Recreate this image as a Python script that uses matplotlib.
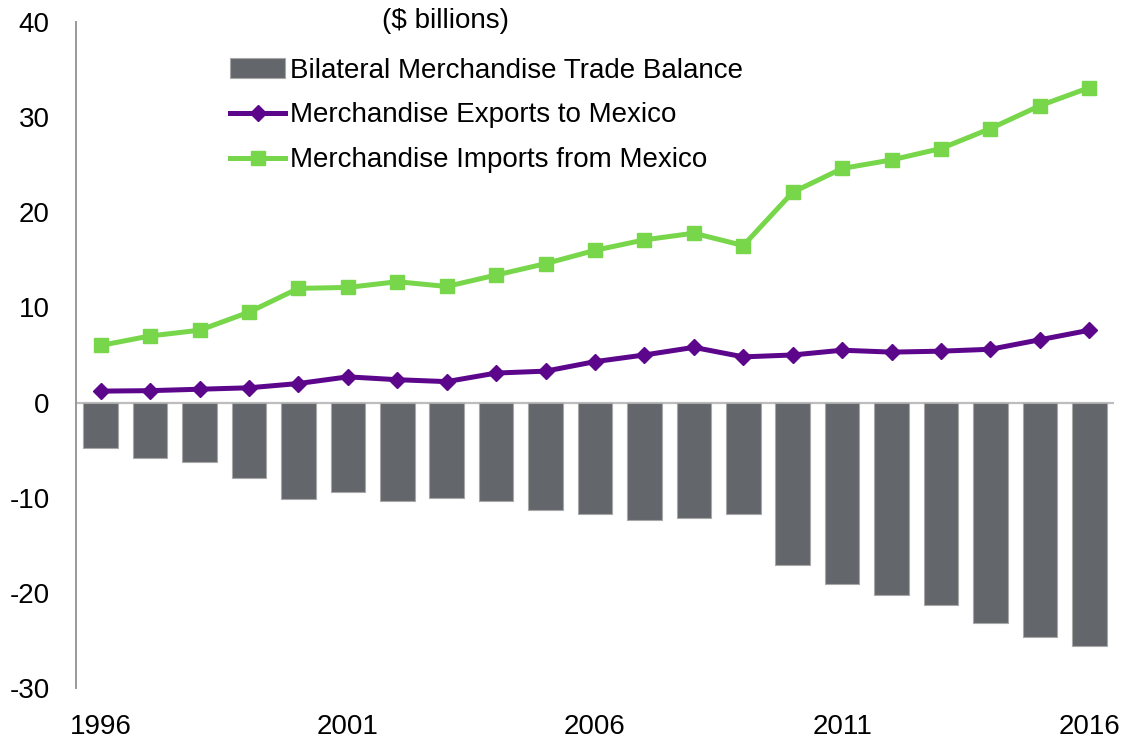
import numpy as np
import matplotlib
matplotlib.use('Agg')
import matplotlib.pyplot as plt


years = list(range(1996, 2017))
balance = [-4.8, -5.8, -6.3, -7.9, -10.1, -9.4, -10.4, -10.0, -10.4, -11.3, -11.7,
           -12.3, -12.1, -11.7, -17.1, -19.1, -20.2, -21.3, -23.2, -24.6, -25.6]
exports = [1.2, 1.25, 1.4, 1.55, 2.0, 2.7, 2.4, 2.2, 3.1, 3.3, 4.3,
           5.0, 5.8, 4.8, 5.0, 5.5, 5.3, 5.4, 5.6, 6.6, 7.6]
imports = [6.0, 7.0, 7.6, 9.5, 12.0, 12.1, 12.7, 12.2, 13.4, 14.6, 16.0,
           17.1, 17.8, 16.5, 22.1, 24.6, 25.5, 26.7, 28.8, 31.2, 33.1]
year_ticks = [1996, 2001, 2006, 2011, 2016]
y_ticks = [-30, -20, -10, 0, 10, 20, 30, 40]

labels = ['Bilateral Merchandise Trade Balance',
          'Merchandise Exports to Mexico',
          'Merchandise Imports from Mexico']

gray = '#63666a'
purple = '#5c068c'
green = '#78d64b'

plt.rcParams['font.family'] = ['Liberation Sans', 'DejaVu Sans']
plt.rcParams['font.size'] = 20
plt.rcParams['axes.unicode_minus'] = False

fig = plt.figure(figsize=(11.27, 7.42), dpi=100)
ax = fig.add_axes([0.0674, 0.0728, 0.9211, 0.8976])

bars = ax.bar(years, balance, width=0.7, color=gray, edgecolor='#a8a8a8',
              linewidth=0.8, zorder=2, label=labels[0])
ax.axhline(0, color='#bdbdbd', linewidth=1.6, zorder=1)
ln_exp, = ax.plot(years, exports, color=purple, linewidth=3.6, marker='D',
                  markersize=8, zorder=4, label=labels[1])
ln_imp, = ax.plot(years, imports, color=green, linewidth=3.6, marker='s',
                  markersize=9.5, zorder=3, label=labels[2])

ax.set_xlim(1995.5, 2016.5)
ax.set_ylim(-30, 40)
ax.set_xticks(year_ticks)
ax.set_yticks(y_ticks)
ax.tick_params(axis='both', length=0, pad=19)
for side in ['top', 'right', 'bottom']:
    ax.spines[side].set_visible(False)
ax.spines['left'].set_color('#999999')
ax.spines['left'].set_linewidth(1.4)

fig.legend(handles=[bars, ln_exp, ln_imp], labels=labels, loc='upper left',
           bbox_to_anchor=(0.204, 0.9224), frameon=False, borderpad=0,
           borderaxespad=0, handlelength=2.0, handletextpad=0.15,
           labelspacing=0.68)
fig.text(0.395, 0.972, '($ billions)', ha='center', va='center')

fig.savefig('out.png', dpi=100)
